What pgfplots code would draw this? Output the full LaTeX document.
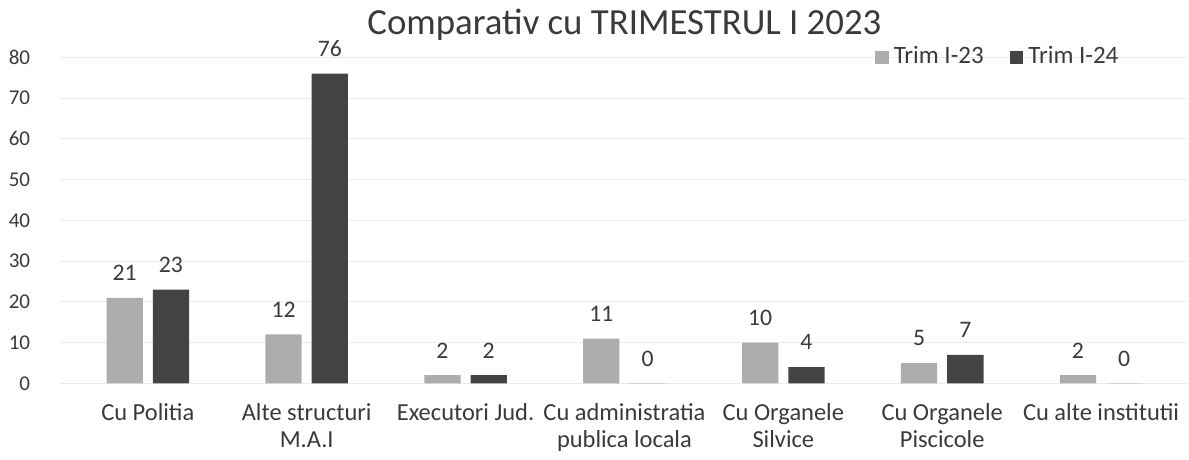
\documentclass[border=0pt]{standalone}
\usepackage{pgfplots}
\pgfplotsset{compat=1.18}
\usepackage{fontspec}
\setmainfont{Carlito}
\definecolor{lightbar}{HTML}{ADADAD}
\definecolor{darkbar}{HTML}{444444}
\definecolor{txt}{HTML}{3A3A3A}
\begin{document}
\begin{tikzpicture}
\begin{axis}[
  scale only axis,
  width=429pt, height=124pt,
  ybar=3.8pt, bar width=13.8pt,
  ymin=0, ymax=80, ytick={0,10,...,80},
  xmin=-0.55, xmax=6.55,
  xtick={0,...,6},
  xticklabels={Cu Politia,Alte structuri\\M.A.I,Executori Jud.,Cu administratia\\publica locala,Cu Organele\\Silvice,Cu Organele\\Piscicole,Cu alte institutii},
  xticklabel style={align=center, font=\fontsize{9.3}{10}\selectfont, text=txt},
  yticklabel style={font=\fontsize{8}{9}\selectfont, text=txt, xshift=-8pt},
  /pgf/number format/assume math mode=true,
  axis line style={draw=none}, tick style={draw=none},
  ymajorgrids, grid style={black!8},
  nodes near coords,
  every node near coord/.append style={font=\fontsize{9}{10}\selectfont, text=txt, yshift=3pt},
  title={Comparativ cu TRIMESTRUL I 2023},
  title style={font=\fontsize{14}{16}\selectfont, text=txt, yshift=-3pt},
  legend style={at={(0.95,1)}, anchor=east, draw=none, fill=none, legend columns=2,
    font=\fontsize{9.5}{10}\selectfont, text=txt,
    /tikz/every even column/.append style={column sep=8pt}},
  legend image code/.code={\fill[#1] (0pt,-2.5pt) rectangle (5pt,2.5pt);},
]
\addplot[fill=lightbar, draw=none] coordinates {(0,21) (1,12) (2,2) (3,11) (4,10) (5,5) (6,2)};
\addplot[fill=darkbar, draw=none] coordinates {(0,23) (1,76) (2,2) (3,0) (4,4) (5,7) (6,0)};
\legend{Trim I-23,Trim I-24}
\end{axis}
\end{tikzpicture}
\end{document}
